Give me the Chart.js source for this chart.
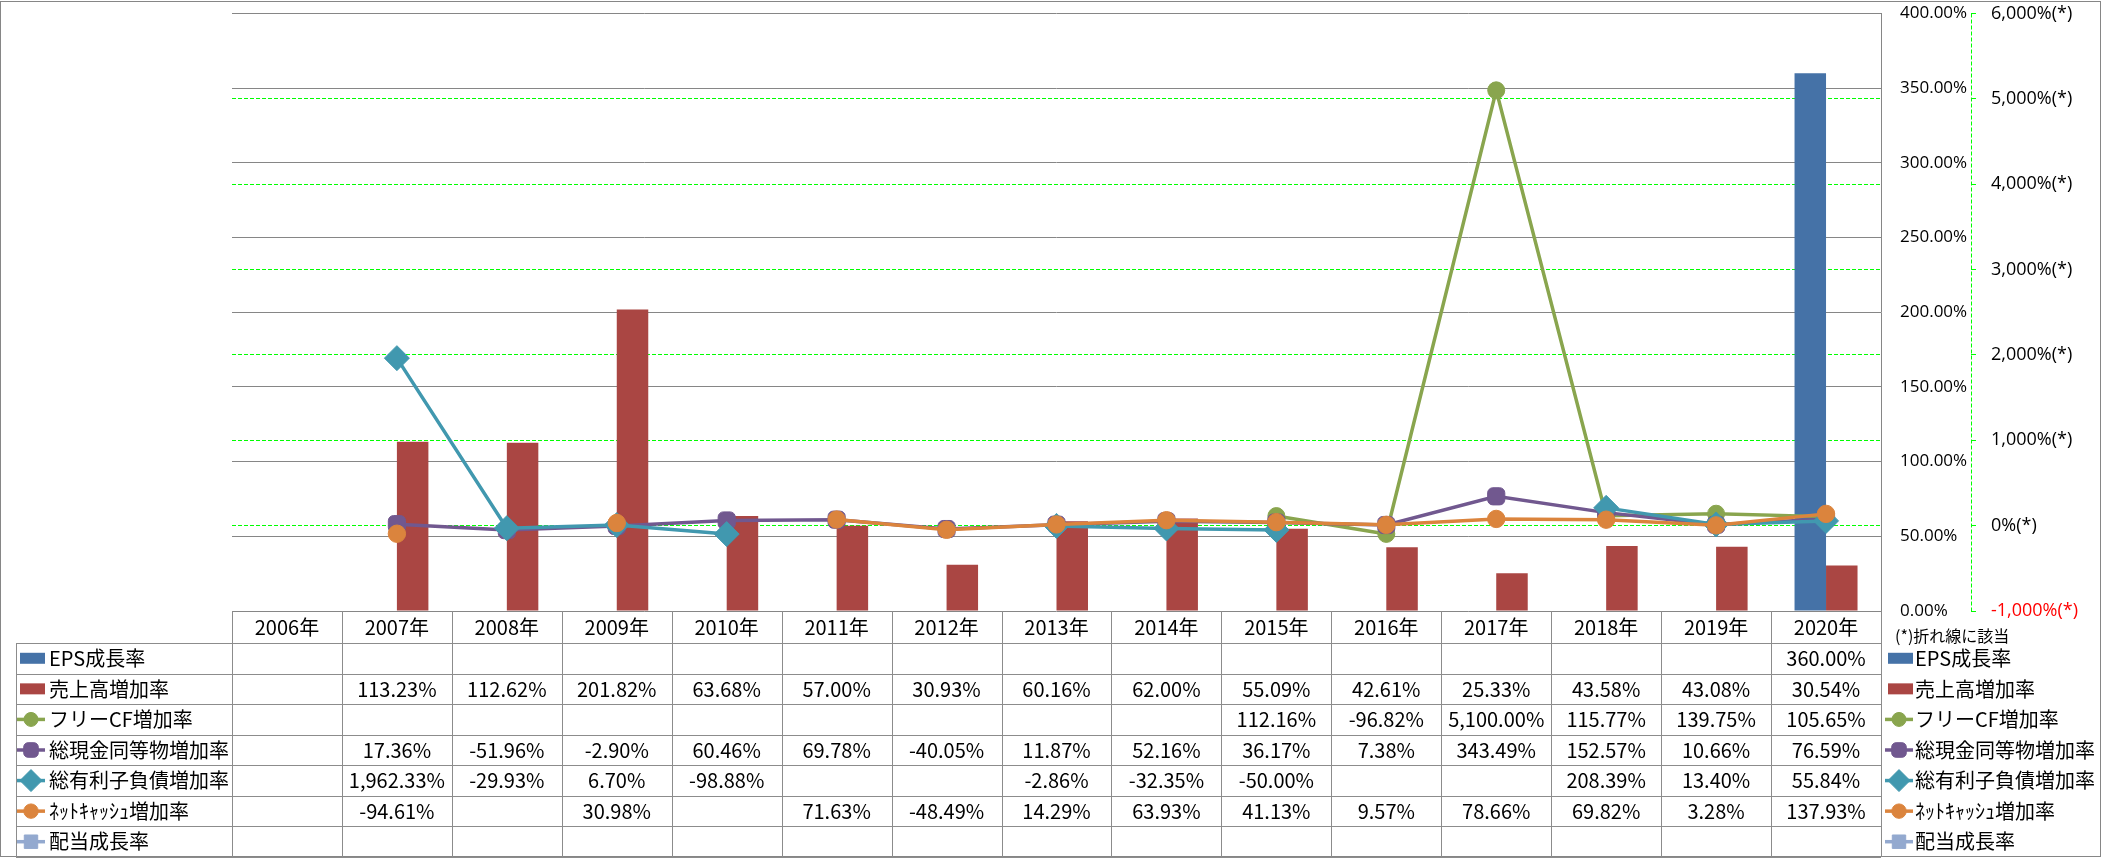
<!DOCTYPE html>
<html><head><meta charset="utf-8">
<script src="https://cdn.jsdelivr.net/npm/chart.js@4.4.0/dist/chart.umd.min.js"></script>
<style>
html,body{margin:0;padding:0;background:#fff;}
#wrap{position:relative;width:2101px;height:858px;overflow:hidden;background:#fff;font-family:"Noto Sans CJK JP","Noto Sans",sans-serif;}
#c{position:absolute;left:0;top:0;}
.frame{position:absolute;left:0;top:1px;width:2101px;height:856px;border:1px solid #868686;box-sizing:border-box;pointer-events:none;}
.ln{position:absolute;background:#8c8c8c;}
.t{position:absolute;white-space:nowrap;color:#000;font-size:20px;text-align:center;}
</style></head><body>
<div id="wrap"><canvas id="c" width="2101" height="858"></canvas><div class="frame"></div></div>
<script>
// ---- data ----
const categories = ['2006年','2007年','2008年','2009年','2010年','2011年','2012年','2013年','2014年','2015年','2016年','2017年','2018年','2019年','2020年'];
const epsGrowth = [null,null,null,null,null,null,null,null,null,null,null,null,null,null,360.00];
const salesGrowth = [null,113.23,112.62,201.82,63.68,57.00,30.93,60.16,62.00,55.09,42.61,25.33,43.58,43.08,30.54];
const freeCfGrowth = [null,null,null,null,null,null,null,null,null,112.16,-96.82,5100.00,115.77,139.75,105.65];
const cashGrowth = [null,17.36,-51.96,-2.90,60.46,69.78,-40.05,11.87,52.16,36.17,7.38,343.49,152.57,10.66,76.59];
const debtGrowth = [null,1962.33,-29.93,6.70,-98.88,null,null,-2.86,-32.35,-50.00,null,null,208.39,13.40,55.84];
const netCashGrowth = [null,-94.61,null,30.98,null,71.63,-48.49,14.29,63.93,41.13,9.57,78.66,69.82,3.28,137.93];
const dividendGrowth = [null,null,null,null,null,null,null,null,null,null,null,null,null,null,null];
const seriesNames = ['EPS成長率','売上高増加率','フリーCF増加率','総現金同等物増加率','総有利子負債増加率','ﾈｯﾄｷｬｯｼｭ増加率','配当成長率'];
const leftTicks = {min:0,max:400,step:50};
const rightTicks = {min:-1000,max:6000,step:1000};
const footNote = '(*)折れ線に該当';

const COLORS = ['#4572A7','#AA4643','#89A54E','#71588F','#4198AF','#DB843D','#93A9CF'];

function lineDs(i, data, style, r, order){
  return {type:'line', label:seriesNames[i], data, yAxisID:'y2', order,
    borderColor:COLORS[i], backgroundColor:COLORS[i], borderWidth:3.5,
    pointStyle:style, pointRadius:r, pointHoverRadius:r, pointBorderWidth:1,
    pointBackgroundColor:COLORS[i], pointBorderColor:COLORS[i],
    tension:0, spanGaps:false, fill:false};
}
const datasets = [
  {type:'bar', label:seriesNames[0], data:epsGrowth, yAxisID:'y', order:6, backgroundColor:COLORS[0], borderWidth:0, categoryPercentage:0.573, barPercentage:1.0},
  {type:'bar', label:seriesNames[1], data:salesGrowth, yAxisID:'y', order:7, backgroundColor:COLORS[1], borderWidth:0, categoryPercentage:0.573, barPercentage:1.0},
  lineDs(2, freeCfGrowth, 'circle', 8.5, 4),
  lineDs(3, cashGrowth, 'rectRounded', 10, 3),
  lineDs(4, debtGrowth, 'rectRot', 12.5, 2),
  lineDs(5, netCashGrowth, 'circle', 8.7, 1),
  lineDs(6, dividendGrowth, 'rect', 11, 5)
];

const TABLE = {headerH:32, rowH:30.57, leftX:16};

const legendSymbols = {
  id:'legendSymbols',
  afterDraw(chart){
    const ctx = chart.ctx, ca = chart.chartArea;
    // dashed secondary axis line
    const s2 = chart.scales.y2;
    ctx.save();
    ctx.strokeStyle = '#00FF00'; ctx.lineWidth = 1; ctx.setLineDash([4,2]);
    ctx.beginPath(); ctx.moveTo(Math.round(s2.left)+0.5, ca.top); ctx.lineTo(Math.round(s2.left)+0.5, ca.bottom); ctx.stroke();
    ctx.restore();
    const top = ca.bottom + TABLE.headerH;
    chart.data.datasets.forEach((ds,i)=>{
      const cy = top + TABLE.rowH*(i+0.5);
      [TABLE.leftX+1, ca.right+4].forEach(x0=>{
        ctx.save();
        if (ds.type==='bar'){
          ctx.fillStyle = ds.backgroundColor;
          ctx.fillRect(x0+3, cy-5.5, 25, 11);
        } else {
          ctx.strokeStyle = ds.borderColor; ctx.lineWidth = 3.5;
          ctx.beginPath(); ctx.moveTo(x0, cy); ctx.lineTo(x0+28, cy); ctx.stroke();
          ctx.fillStyle = ds.pointBackgroundColor; ctx.strokeStyle = ds.pointBorderColor; ctx.lineWidth = 1;
          Chart.helpers.drawPoint(ctx, {pointStyle:ds.pointStyle, radius:Math.max(7, ds.pointRadius-1.5), borderWidth:1, rotation:0}, x0+14, cy);
        }
        ctx.restore();
      });
    });
  }
};

const fmt = new Intl.NumberFormat('en-US',{minimumFractionDigits:2,maximumFractionDigits:2});

const chart = new Chart(document.getElementById('c'), {
  type:'bar',
  data:{labels:categories, datasets},
  options:{
    responsive:false, animation:false, devicePixelRatio:1,
    layout:{padding:{left:232, top:12, right:0, bottom:247}},
    plugins:{legend:{display:false}, tooltip:{enabled:false}},
    scales:{
      x:{type:'category', display:false, offset:true},
      y:{type:'linear', position:'right', min:leftTicks.min, max:leftTicks.max,
        ticks:{stepSize:leftTicks.step, padding:19, color:'#000', font:{family:'Open Sans', size:17},
          callback:v=>Number(v).toFixed(2)+'%'},
        grid:{color:'#868686', lineWidth:1, drawTicks:false},
        border:{display:true, color:'#868686', width:1},
        afterFit:s=>{s.width=90; s.paddingTop=0; s.paddingBottom=0;}
      },
      y2:{type:'linear', position:'right', min:rightTicks.min, max:rightTicks.max,
        ticks:{stepSize:rightTicks.step, padding:15, font:{family:'Open Sans', size:18},
          color:c=>(c.tick && c.tick.value<0)?'#FF0000':'#000',
          callback:v=>Number(v).toLocaleString('en-US')+'%(*)'},
        grid:{color:c=>(c.tick && (c.tick.value===rightTicks.max||c.tick.value===rightTicks.min))?'rgba(0,0,0,0)':'#00FF00',
          tickColor:'#00FF00', lineWidth:1, drawTicks:true, tickLength:5},
        border:{display:false, dash:[4,2]},
        afterFit:s=>{s.width=130; s.paddingTop=0; s.paddingBottom=0;}
      }
    }
  },
  plugins:[legendSymbols]
});

// ---- data table (HTML text) aligned to the chart's x scale ----
(function buildTable(){
  const wrap = document.getElementById('wrap');
  const ca = chart.chartArea, xs = chart.scales.x;
  const n = categories.length;
  const colW = (ca.right - ca.left)/n;
  const top = ca.bottom + TABLE.headerH;
  const rows = seriesNames.length;
  const bottom = top + TABLE.rowH*rows;
  const add = (cls, st, txt)=>{const d=document.createElement('div'); d.className=cls; Object.assign(d.style, st); if(txt!==undefined) d.textContent=txt; wrap.appendChild(d); return d;};
  for(let i=0;i<=n;i++){
    const x = Math.round(ca.left + i*colW);
    add('ln',{left:x+'px', top:Math.round(ca.bottom)+'px', width:'1px', height:Math.round(bottom-ca.bottom)+'px'});
  }
  add('ln',{left:TABLE.leftX+'px', top:Math.round(top)+'px', width:'1px', height:Math.round(bottom-top)+'px'});
  for(let r=0;r<=rows;r++){
    const y = Math.round(top + r*TABLE.rowH);
    add('ln',{left:TABLE.leftX+'px', top:y+'px', width:Math.round(ca.right-TABLE.leftX)+'px', height:'1px'});
  }
  categories.forEach((c,i)=>{
    const cx = xs.getPixelForValue(i);
    add('t',{left:(cx-colW/2)+'px', width:colW+'px', top:ca.bottom+'px', height:TABLE.headerH+'px', lineHeight:TABLE.headerH+'px'}, c);
  });
  const rowData = [epsGrowth,salesGrowth,freeCfGrowth,cashGrowth,debtGrowth,netCashGrowth,dividendGrowth];
  rowData.forEach((arr,r)=>{
    const y = top + r*TABLE.rowH;
    add('t',{left:(TABLE.leftX+33)+'px', top:y+'px', height:TABLE.rowH+'px', lineHeight:TABLE.rowH+'px', textAlign:'left'}, seriesNames[r]);
    add('t',{left:(ca.right+34)+'px', top:y+'px', height:TABLE.rowH+'px', lineHeight:TABLE.rowH+'px', textAlign:'left'}, seriesNames[r]);
    arr.forEach((v,i)=>{
      if(v===null) return;
      const cx = xs.getPixelForValue(i);
      add('t',{left:(cx-colW/2)+'px', width:colW+'px', top:y+'px', height:TABLE.rowH+'px', lineHeight:TABLE.rowH+'px'}, fmt.format(v)+'%');
    });
  });
  add('t',{left:(ca.right+14)+'px', top:(ca.bottom+14)+'px', height:'20px', lineHeight:'20px', fontSize:'16px', textAlign:'left'}, footNote);
})();
</script>
</body></html>
